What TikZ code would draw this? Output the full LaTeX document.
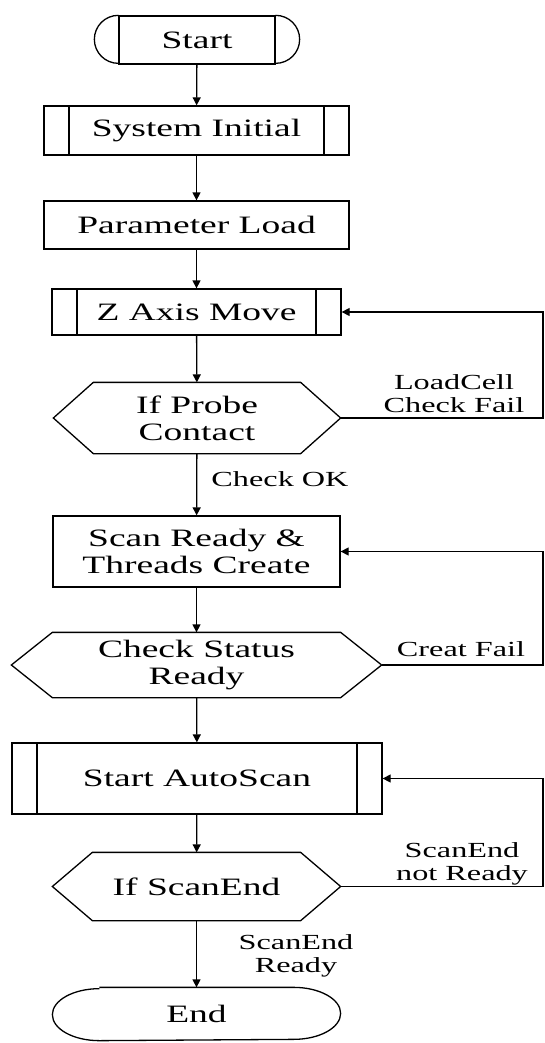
\documentclass[tikz,border=0pt]{standalone}
\usepackage{fontspec}
\setmainfont{Liberation Serif}[FakeStretch=1.5]
\usetikzlibrary{arrows.meta}
\newcommand{\hexpath}[2]{\draw (#1.west) -- ([xshift=#2]#1.north west) -- ([xshift=-#2]#1.north east) -- (#1.east) -- ([xshift=-#2]#1.south east) -- ([xshift=#2]#1.south west) -- cycle;}
\begin{document}
\begin{tikzpicture}[x=1pt,y=1pt,line width=1.3pt,>={Triangle[length=8pt,width=8pt]},
    every node/.style={font=\fontsize{25}{27}\selectfont,inner sep=0pt,align=center},
    subproc/.style={draw,path picture={\draw ([xshift=25pt]path picture bounding box.north west) -- ([xshift=25pt]path picture bounding box.south west) ([xshift=-25pt]path picture bounding box.north east) -- ([xshift=-25pt]path picture bounding box.south east);}},
    lbl/.style={font=\fontsize{21.5}{23}\selectfont}]
    \useasboundingbox (0,0) rectangle (545,-1043);
    \coordinate (rail) at (543,0);
    %% start
    \node[draw,minimum width=156pt,minimum height=48pt] (start) at (197,-40) {Start};
    \draw (start.north west) arc[start angle=90,end angle=270,radius=24];
    \draw (start.north east) arc[start angle=90,end angle=-90,radius=24];
    %% steps
    \node[subproc,minimum width=305pt,minimum height=49pt] (sysinit) at (196.5,-130.5) {System Initial};
    \node[draw,minimum width=305pt,minimum height=48pt] (param) at (196.5,-225) {Parameter Load};
    \node[subproc,minimum width=289pt,minimum height=46pt] (zaxis) at (196.5,-312) {Z Axis Move};
    \node[minimum width=286pt,minimum height=70pt] (probe) at (197,-418) {If Probe\\Contact};
    \hexpath{probe}{40pt}
    \node[draw,minimum width=287pt,minimum height=71pt] (scanready) at (196.5,-551.5) {Scan Ready \&\\Threads Create};
    \node[minimum width=369pt,minimum height=64pt] (status) at (196.5,-665) {Check Status\\Ready};
    \hexpath{status}{41pt}
    \node[subproc,minimum width=370pt,minimum height=71pt] (autoscan) at (197,-778.5) {Start AutoScan};
    \node[minimum width=287pt,minimum height=67pt] (scanend) at (196.5,-886.5) {If ScanEnd};
    \hexpath{scanend}{40pt}
    %% end
    \node[minimum width=193pt,minimum height=52pt] (end) at (196.5,-1014) {End};
    \draw (end.north west) -- (end.north east) arc[start angle=90,end angle=-90,x radius=47,y radius=26]
        -- (end.south west) arc[start angle=270,end angle=90,x radius=47,y radius=26];
    %% flow
    \draw[->] (start) -- (sysinit);
    \draw[->] (sysinit) -- (param);
    \draw[->] (param) -- (zaxis);
    \draw[->] (zaxis) -- (probe);
    \draw[->] (probe) -- (scanready);
    \draw[->] (scanready) -- (status);
    \draw[->] (status) -- (autoscan);
    \draw[->] (autoscan) -- (scanend);
    \draw[->] (scanend) -- (end);
    %% loops
    \draw[->] (probe.east) -- (probe.east -| rail) |- (zaxis.east);
    \draw[->] (status.east) -- (status.east -| rail) |- (scanready.east);
    \draw[->] (scanend.east) -- (scanend.east -| rail) |- (autoscan.east);
    %% labels
    \node[lbl] (failprobe) at (454,-394) {LoadCell\\Check Fail};
    \node[lbl] (okprobe) at (280,-479) {Check OK};
    \node[lbl] (failcreate) at (461,-649) {Creat Fail};
    \node[lbl] (notready) at (462,-864) {ScanEnd\\not Ready};
    \node[lbl] (ready) at (296,-956) {ScanEnd\\Ready};
\end{tikzpicture}
\end{document}
